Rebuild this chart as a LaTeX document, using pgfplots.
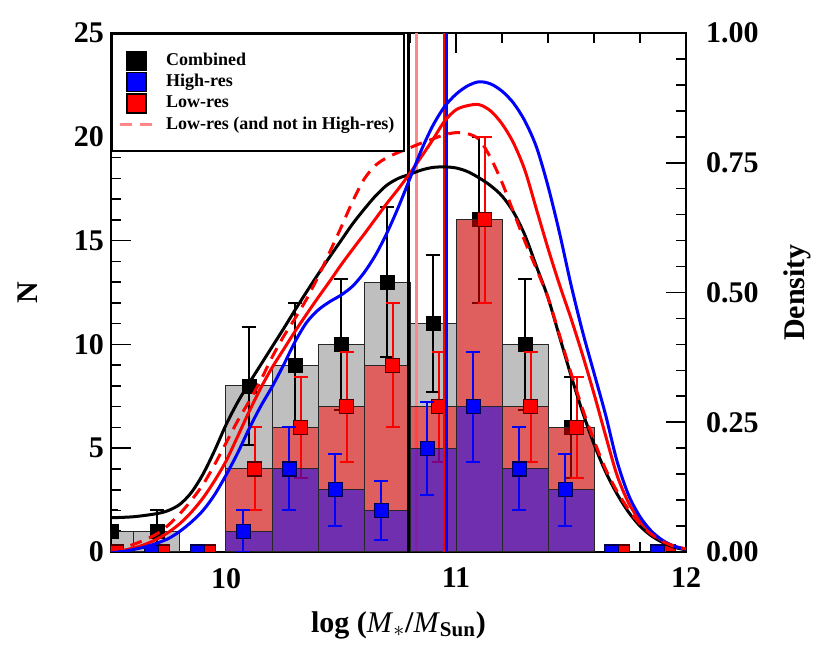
\documentclass[border=0pt]{standalone}
\usepackage{fontspec}
\setmainfont{Liberation Serif}
\usepackage{pgfplots}
\pgfplotsset{compat=1.18}

\definecolor{histgrey}{RGB}{191,191,191}
\definecolor{lowpink}{RGB}{255,135,135}
\newcommand{\bigbf}{\fontsize{15}{18}\selectfont\bfseries}

\begin{document}
\begin{tikzpicture}
\pgfplotsset{
  base/.style={
    at={(0,0)}, anchor=south west, scale only axis,
    width=287.5pt, height=259.5pt,
    xmin=9.5, xmax=12,
    axis line style={line width=1pt},
    major tick length=10pt, minor tick length=5pt,
    every tick/.style={black, line width=0.8pt},
    tick label style={font=\bigbf},
    /pgf/number format/assume math mode=true,
  },
  errs/.style={only marks, mark=square*, mark size=3.5pt,
    error bars/.cd, y dir=both, y explicit,
    error bar style={#1, line width=1pt},
    error mark options={rotate=90, mark size=3.5pt, line width=1pt, #1}},
  hbar/.style={ybar, bar width=0.2, bar shift=0pt, draw=black!85, line width=0.5pt},
}
\path (-55.5pt,-56pt) rectangle (359.5pt,276pt);

% counts
\begin{axis}[base,
  ymin=0, ymax=25,
  xtick={10,11,12}, minor x tick num=4, xtick pos=both, xticklabel pos=bottom,
  ytick={0,5,10,15,20,25}, minor y tick num=4, ytick pos=left,
  xticklabel style={yshift=-4.5pt},
  clip mode=individual, clip marker paths=true,
  xlabel={log (\textit{\mdseries M}\textsubscript{$\ast$}/\textit{\mdseries M}\textsubscript{Sun})},
  ylabel={N},
  xlabel style={font=\bigbf, at={(axis description cs:0.5,-0.1407)}, anchor=center},
  ylabel style={font=\bigbf, at={(axis description cs:-0.1443,0.5)}, anchor=center},
]
% combined
\addplot[hbar, fill=histgrey] coordinates {(9.5,1) (9.7,1) (10.1,8) (10.3,9) (10.5,10) (10.7,13) (10.9,11) (11.1,16) (11.3,10) (11.5,6)};
\addplot[lowpink, line width=1.5pt] coordinates {(10.829,0) (10.829,25)};
\addplot[mark options={fill=black, draw=black}, errs=black] coordinates {
  (9.5,1) +- (0,1) (9.7,1) +- (0,1) (10.1,8) +- (0,2.828) (10.3,9) +- (0,3)
  (10.5,10) +- (0,3.162) (10.7,13) +- (0,3.606) (10.9,11) +- (0,3.317)
  (11.1,16) +- (0,4) (11.3,10) +- (0,3.162) (11.5,6) +- (0,2.449)};
% low-res
\addplot[hbar, fill=red, fill opacity=0.5] coordinates {(10.1,4) (10.3,6) (10.5,7) (10.7,9) (10.9,7) (11.1,16) (11.3,7) (11.5,6)};
\addplot[mark options={fill=red, draw=black!70!red, line width=0.6pt}, errs=red] coordinates {
  (9.525,0) +- (0,0) (9.725,0) +- (0,0) (9.925,0) +- (0,0)
  (10.125,4) +- (0,2) (10.325,6) +- (0,2.449) (10.525,7) +- (0,2.646)
  (10.725,9) +- (0,3) (10.925,7) +- (0,2.646) (11.125,16) +- (0,4)
  (11.325,7) +- (0,2.646) (11.525,6) +- (0,2.449) (11.725,0) +- (0,0) (11.925,0) +- (0,0)};
% high-res
\addplot[hbar, fill=blue, fill opacity=0.5] coordinates {(10.1,1) (10.3,4) (10.5,3) (10.7,2) (10.9,5) (11.1,7) (11.3,4) (11.5,3)};
\addplot[mark options={fill=blue, draw=black!70!blue, line width=0.6pt}, errs=blue] coordinates {
  (9.475,0) +- (0,0) (9.675,0) +- (0,0) (9.875,0) +- (0,0)
  (10.075,1) +- (0,1) (10.275,4) +- (0,2) (10.475,3) +- (0,1.732)
  (10.675,2) +- (0,1.414) (10.875,5) +- (0,2.236) (11.075,7) +- (0,2.646)
  (11.275,4) +- (0,2) (11.475,3) +- (0,1.732) (11.675,0) +- (0,0) (11.875,0) +- (0,0)};
% medians
\addplot[black, line width=1.5pt] coordinates {(10.793,0) (10.793,25)};
\addplot[red, line width=1.5pt] coordinates {(10.949,0) (10.949,25)};
\addplot[blue, line width=1.5pt] coordinates {(10.959,0) (10.959,25)};
\end{axis}

% densities
\begin{axis}[base,
  ymin=0, ymax=1,
  axis y line*=right, hide x axis,
  ytick={0,0.25,0.5,0.75,1}, minor y tick num=4,
  yticklabel style={/pgf/number format/fixed, /pgf/number format/fixed zerofill,
    /pgf/number format/precision=2, xshift=6.5pt},
  ylabel={Density},
  ylabel style={font=\bigbf, at={(axis description cs:1.193,0.5)}, anchor=center},
  legend cell align=left,
  legend style={at={(0,1)}, anchor=north west, draw=black, line width=1pt, fill=white,
    font=\fontsize{9}{10.8}\selectfont\bfseries, inner xsep=3pt, inner ysep=8.5pt,
    nodes={inner ysep=1pt}, row sep=1pt,
    /tikz/every odd column/.append style={column sep=3.5pt}},
]
\addplot[black, line width=1.5pt, smooth, forget plot] coordinates {
(9.50,0.066)(9.60,0.068)(9.70,0.074)(9.75,0.080)(9.80,0.092)(9.85,0.115)(9.90,0.15)(9.95,0.195)
(10.00,0.245)(10.05,0.288)(10.10,0.325)(10.15,0.36)(10.20,0.395)(10.25,0.43)(10.30,0.466)(10.35,0.501)
(10.40,0.535)(10.45,0.568)(10.50,0.60)(10.55,0.632)(10.60,0.66)(10.65,0.686)(10.70,0.707)(10.75,0.72)
(10.80,0.728)(10.85,0.736)(10.90,0.741)(10.95,0.742)(11.00,0.740)(11.05,0.733)(11.10,0.721)(11.15,0.706)
(11.20,0.686)(11.25,0.655)(11.30,0.61)(11.35,0.55)(11.40,0.49)(11.45,0.415)(11.50,0.34)(11.55,0.27)
(11.60,0.208)(11.65,0.155)(11.70,0.112)(11.75,0.077)(11.80,0.05)(11.85,0.031)(11.90,0.018)(11.95,0.009)(12.00,0.004)};
\addplot[red, line width=1.5pt, smooth, forget plot] coordinates {
(9.50,0.0)(9.55,0.003)(9.60,0.008)(9.65,0.015)(9.70,0.025)(9.75,0.038)(9.80,0.055)(9.85,0.077)(9.90,0.104)(9.95,0.137)
(10.00,0.175)(10.05,0.222)(10.10,0.27)(10.15,0.315)(10.20,0.355)(10.25,0.39)(10.30,0.425)(10.35,0.458)(10.40,0.49)(10.45,0.521)
(10.50,0.553)(10.55,0.583)(10.60,0.612)(10.65,0.642)(10.70,0.672)(10.75,0.70)(10.80,0.73)(10.85,0.762)(10.90,0.795)(10.95,0.83)
(11.00,0.852)(11.05,0.86)(11.10,0.862)(11.15,0.85)(11.20,0.825)(11.25,0.788)(11.30,0.735)(11.35,0.66)(11.40,0.585)(11.45,0.515)
(11.50,0.45)(11.55,0.38)(11.60,0.305)(11.65,0.225)(11.70,0.148)(11.75,0.095)(11.80,0.06)(11.85,0.037)(11.90,0.021)(11.95,0.011)(12.00,0.006)};
\addplot[blue, line width=1.5pt, smooth, forget plot] coordinates {
(9.50,0.0)(9.55,0.001)(9.60,0.005)(9.65,0.01)(9.70,0.017)(9.75,0.026)(9.80,0.04)(9.85,0.058)(9.90,0.08)(9.95,0.11)
(10.00,0.148)(10.05,0.19)(10.10,0.237)(10.15,0.28)(10.20,0.318)(10.25,0.36)(10.30,0.405)(10.35,0.442)(10.40,0.466)(10.45,0.482)
(10.50,0.495)(10.55,0.512)(10.60,0.538)(10.65,0.572)(10.70,0.615)(10.75,0.665)(10.80,0.72)(10.85,0.775)(10.90,0.822)(10.95,0.858)
(11.00,0.882)(11.05,0.898)(11.10,0.906)(11.15,0.902)(11.20,0.888)(11.25,0.865)(11.30,0.83)(11.35,0.78)(11.40,0.705)(11.45,0.615)
(11.50,0.515)(11.55,0.425)(11.60,0.345)(11.65,0.265)(11.70,0.175)(11.75,0.11)(11.80,0.068)(11.85,0.04)(11.90,0.022)(11.95,0.011)(12.00,0.005)};
\addplot[red, line width=1.5pt, smooth, dash pattern=on 6pt off 4pt, forget plot] coordinates {
(9.50,0.004)(9.55,0.008)(9.60,0.015)(9.65,0.024)(9.70,0.035)(9.75,0.052)(9.80,0.074)(9.85,0.10)(9.90,0.13)(9.95,0.168)
(10.00,0.21)(10.05,0.252)(10.10,0.29)(10.15,0.33)(10.20,0.375)(10.25,0.415)(10.30,0.45)(10.35,0.487)(10.40,0.53)(10.45,0.577)
(10.50,0.625)(10.55,0.675)(10.60,0.718)(10.65,0.745)(10.70,0.76)(10.75,0.77)(10.80,0.779)(10.85,0.788)(10.90,0.796)(10.95,0.804)
(11.00,0.808)(11.05,0.806)(11.10,0.795)(11.15,0.76)(11.20,0.712)(11.25,0.655)(11.30,0.598)(11.35,0.545)(11.40,0.49)(11.45,0.418)
(11.50,0.345)(11.55,0.276)(11.60,0.215)(11.65,0.16)(11.70,0.117)(11.75,0.082)(11.80,0.054)(11.85,0.034)(11.90,0.02)(11.95,0.011)(12.00,0.006)};

\addlegendimage{only marks, mark=square*, mark size=4.75pt, mark options={fill=black, draw=black, line width=0.6pt}}
\addlegendentry{Combined}
\addlegendimage{only marks, mark=square*, mark size=4.75pt, mark options={fill=blue, draw=black, line width=0.6pt}}
\addlegendentry{High-res}
\addlegendimage{only marks, mark=square*, mark size=4.75pt, mark options={fill=red, draw=black, line width=0.6pt}}
\addlegendentry{Low-res}
\addlegendimage{lowpink, line width=1.5pt, dash pattern=on 6pt off 4pt}
\addlegendentry{Low-res (and not in High-res)}
\end{axis}
\end{tikzpicture}
\end{document}
